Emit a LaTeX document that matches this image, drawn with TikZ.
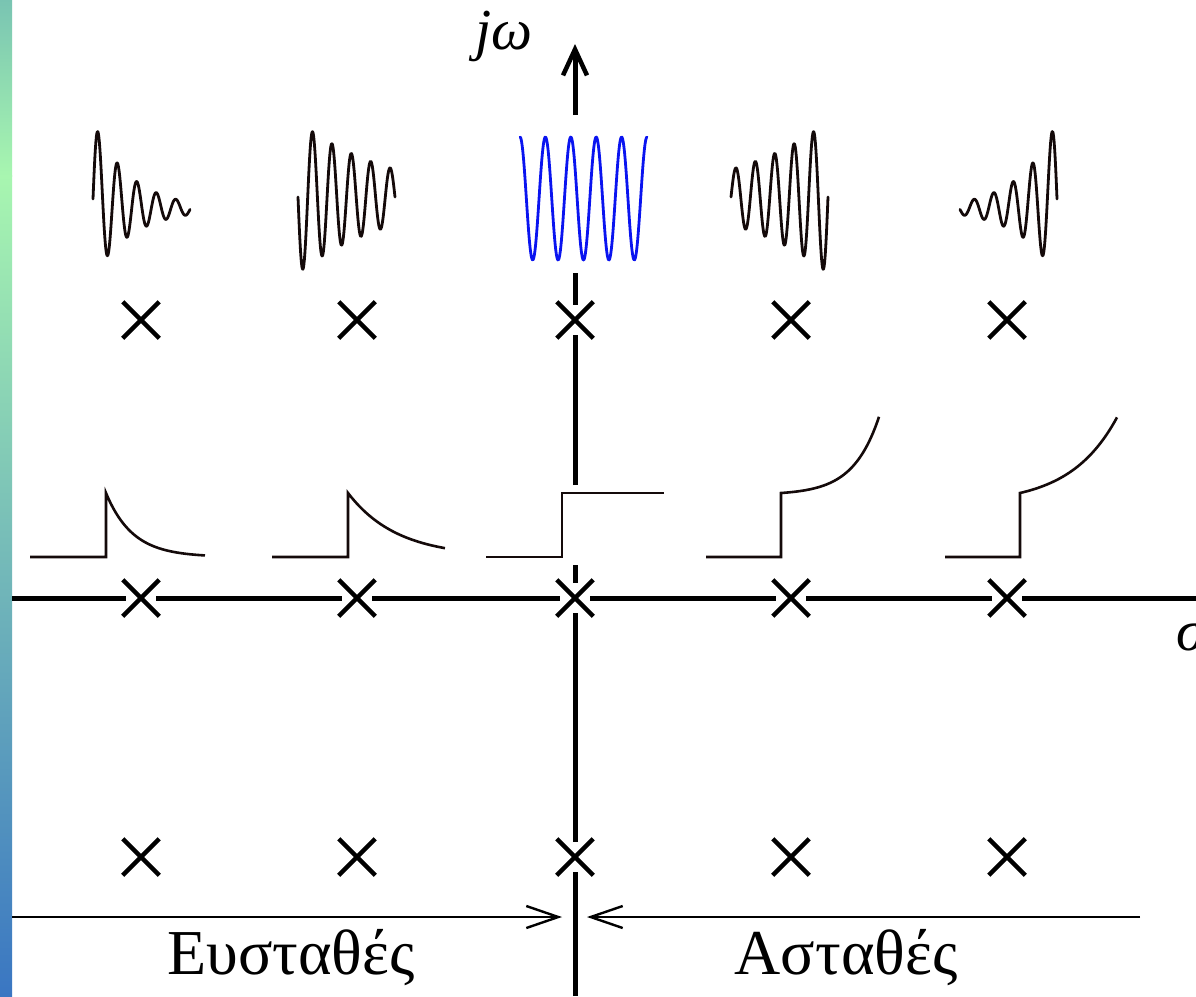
\documentclass[tikz,border=0pt]{standalone}
\usepackage{fontspec}
\setmainfont{Liberation Serif}
\usetikzlibrary{arrows.meta,shapes.misc}
\definecolor{wavecol}{HTML}{140A0A}
\definecolor{stripA}{HTML}{79C4B2}
\definecolor{stripB}{HTML}{A8F6B0}
\definecolor{stripC}{HTML}{6DB8B2}
\definecolor{stripD}{HTML}{3A76C2}
\definecolor{bluewave}{HTML}{0A14F0}
\begin{document}
\begin{tikzpicture}[x=1pt,y=-1pt,
  axisline/.style={line width=5pt,black},
  wave/.style={line width=2.8pt,wavecol,line join=round,line cap=round},
  stepresp/.style={line width=2.6pt,wavecol,line join=miter},
  polemark/.style={cross out,draw,line width=4.5pt,minimum size=32pt,inner sep=0pt},
  polehalo/.style={fill=white,draw=none,minimum size=30pt,inner sep=0pt,rectangle},
  regionarrow/.style={line width=2pt,black,-{Straight Barb[length=32pt,width=22pt,line width=2.4pt]}},
  lab/.style={font=\fontsize{64}{66}\selectfont,inner sep=0pt}]
\useasboundingbox (0,0) rectangle (1196,996);
\fill[white] (0,0) rectangle (1196,996);
% gradient strip
\shade[top color=stripA,bottom color=stripB] (0,0) rectangle (12,176);
\shade[top color=stripB,middle color=stripC,bottom color=stripD] (0,175) rectangle (12,996);
% axes
\coordinate (jtop) at (575,44);
\draw[axisline] (12,598) -- (1196,598);
\draw[axisline] (575,996) -- (575,565);
\draw[axisline] (575,485) -- (575,273);
\draw[axisline,-{Straight Barb[length=26pt,width=24pt,line width=4.5pt]}] (575,115) -- (jtop);
\node[lab,font=\fontsize{58}{60}\selectfont\itshape] (jw) at (504,36) {jω};
\node[lab,font=\fontsize{58}{60}\selectfont\itshape,anchor=west] (sigma) at (1176,636) {σ};
% poles
\foreach \cx in {141,357,575,791,1007}
  \foreach \cy in {320,598,857}{
    \node[polehalo] (h-\cx-\cy) at (\cx,\cy) {};
    \node[polemark] (p-\cx-\cy) at (\cx,\cy) {};
  }
% oscillatory responses
\draw[wave] plot[domain=0:97,samples=200] ({93+\x},{209-10*exp(-0.03*\x)-78*exp(-0.0262*\x)*sin(18.4615*\x)});
\draw[wave] plot[domain=0:97,samples=200] ({298+\x},{197+76*exp(-0.0104*\x)*sin(18.5567*\x)});
\draw[line width=2.8pt,bluewave,line join=round,line cap=round] plot[domain=0:127,samples=250] ({520+\x},{198.5-61.5*cos(14.1732*\x)});
\draw[wave] plot[domain=0:97,samples=200] ({828-\x},{197+76*exp(-0.0104*\x)*sin(18.5567*\x)});
\draw[wave] plot[domain=0:97,samples=200] ({1057-\x},{209-10*exp(-0.03*\x)-78*exp(-0.0262*\x)*sin(18.4615*\x)});
% step responses
\draw[stepresp] (30,557) -- (106,557) -- (106,493) -- plot[domain=0:99,samples=100] ({106+\x},{557-64*exp(-\x/26.7)});
\draw[stepresp] (272,557) -- (348,557) -- (348,493) -- plot[domain=0:97,samples=100] ({348+\x},{557-64*exp(-\x/49)});
\draw[stepresp] (486,557) -- (562,557) -- (562,493) -- (664,493);
\draw[stepresp] (706,557) -- (781,557) -- (781,493) -- plot[domain=0:98,samples=100] ({781+\x},{493-1.8*(exp(\x/26)-1)});
\draw[stepresp] (945,557) -- (1020,557) -- (1020,493) -- plot[domain=0:97,samples=100] ({1020+\x},{493-11*(exp(\x/47)-1)});
% region arrows
\coordinate (ls) at (12,917);
\coordinate (le) at (562,917);
\coordinate (rs) at (1140,917);
\coordinate (re) at (587,917);
\draw[regionarrow] (ls) -- (le);
\draw[regionarrow] (rs) -- (re);
\node[lab] (stable) at (291,958) {Ευσταθές};
\node[lab] (unstable) at (846,958) {Ασταθές};
\end{tikzpicture}
\end{document}
